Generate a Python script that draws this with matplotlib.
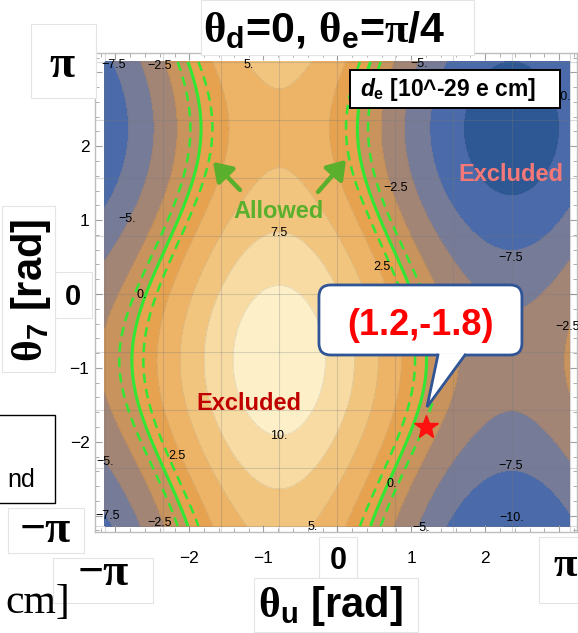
import numpy as np
import matplotlib
matplotlib.use("Agg")
import matplotlib.pyplot as plt
from matplotlib.patches import FancyBboxPatch, Rectangle, Polygon
from matplotlib.ticker import FixedLocator, MultipleLocator

W, H, DPI = 578, 633, 100

# ---------------- data ----------------
theta_e = np.pi / 4                      # fixed phase of the panel
# d_e(theta_u, theta_7) [10^-29 e cm] as harmonic terms in the two phases
de_offset = -0.15
de_u_harmonics = [1, 2]
de_u_amplitudes = [7.95, 0.30]
de_7_amplitude = 3.6
de_7_phase = 0.9

contour_levels = [-10, -7.5, -5, -2.5, 0, 2.5, 5, 7.5, 10]
band_colors = ["#2d5894", "#4a6aa9", "#767b97", "#a28575", "#c8935c",
               "#e6a24f", "#edb367", "#f2c57f", "#f8dba3", "#fdf0c9"]
edm_central = [0.0]
edm_bound = [-1.1, 1.1]
benchmark_u = [1.2]
benchmark_7 = [-1.8]

label_u = [-3.03, -2.40, -1.20, 1.11, 3.00, 0.79, 2.35, 0.60, -2.84, -0.79,
           -2.64, -0.79, -2.17, -3.14, -3.10, -2.40, -0.34, 1.13, 2.36, 3.11,
           2.35, 0.74]
label_7 = [3.10, 3.09, 3.10, 3.11, 2.67, 1.44, 0.49, 0.36, 1.02, 0.83,
           -0.01, -1.92, -2.19, -2.27, -3.00, -3.10, -3.15, -3.17, -3.03, -0.45,
           -2.33, -2.57]
label_val = [-7.5, -2.5, 5, -5, -10, -2.5, -7.5, 2.5, -5, 7.5,
             0, 10, 2.5, -5, -7.5, -2.5, 5, -5, -10, -2.5,
             -7.5, 0]

tick_values = [-3, -2, -1, 0, 1, 2, 3]
tick_labels = ["", "\u22122", "\u22121", "", "1", "2", ""]
grid_values = [k * np.pi / 4 for k in range(-4, 5)]

# ---------------- style ----------------
plt.rcParams['mathtext.fontset'] = 'custom'
plt.rcParams['mathtext.rm'] = 'Liberation Serif:bold'
plt.rcParams['mathtext.sf'] = 'Liberation Sans:bold'
plt.rcParams['mathtext.it'] = 'Liberation Sans:italic:bold'
plt.rcParams['mathtext.bf'] = 'Liberation Sans:bold'
plt.rcParams['font.family'] = ['Liberation Sans', 'DejaVu Sans']

fig = plt.figure(figsize=(W / DPI, H / DPI), dpi=DPI)
ax = fig.add_axes([95 / W, 1 - 532 / H, 482 / W, 479 / H])
ax.set_facecolor('white')

tu = np.linspace(-np.pi, np.pi, 601)
t7 = np.linspace(-np.pi, np.pi, 601)
TU, T7 = np.meshgrid(tu, t7)
D = de_offset + de_7_amplitude * np.cos(T7 + de_7_phase)
for k, a in zip(de_u_harmonics, de_u_amplitudes):
    D = D + a * np.cos(k * (TU + theta_e))

ax.contourf(TU, T7, D, levels=[-1e3] + contour_levels + [1e3], colors=band_colors)
ax.contour(TU, T7, D, levels=contour_levels, colors='#606060', linewidths=0.4, alpha=0.25)
for g in grid_values:
    ax.axvline(g, color='#7a7a7a', lw=0.8, alpha=0.28, zorder=2)
    ax.axhline(g, color='#7a7a7a', lw=0.8, alpha=0.28, zorder=2)

green = '#33e633'
ax.contour(TU, T7, D, levels=edm_central, colors=green, linewidths=2.2, zorder=3)
ax.contour(TU, T7, D, levels=edm_bound, colors=green, linewidths=1.8,
           linestyles=[(0, (3.8, 2.4))], zorder=3)


def fmt(v):
    s = f"{v:g}"
    if '.' not in s:
        s += '.'
    return s.replace('-', '\u2212')


for u, v, val in zip(label_u, label_7, label_val):
    ax.text(u, v, fmt(val), fontsize=9, ha='center', va='center', zorder=4, clip_on=False)

ax.set_xlim(-np.pi - 0.135, np.pi + 0.10)
ax.set_ylim(-np.pi - 0.08, np.pi + 0.12)
ax.xaxis.set_major_locator(FixedLocator(tick_values))
ax.yaxis.set_major_locator(FixedLocator(tick_values))
ax.set_xticklabels(tick_labels)
ax.set_yticklabels(tick_labels)
ax.xaxis.set_minor_locator(MultipleLocator(0.2))
ax.yaxis.set_minor_locator(MultipleLocator(0.2))
ax.tick_params(which='both', direction='in', top=True, right=True, color='#a0a0a0',
               labelcolor='black', labelsize=12.5)
ax.tick_params(which='major', length=5, width=0.8)
ax.tick_params(which='minor', length=2.8, width=0.6)
ax.tick_params(axis='x', pad=14)
ax.tick_params(axis='y', pad=4)
for s in ax.spines.values():
    s.set_color('#bdbdbd')
    s.set_linewidth(1.0)

# annotations inside the plot
ax.text(-0.80, 1.11, "Allowed", color='#5aaf2d', fontsize=17, fontweight='bold',
        ha='center', va='center', zorder=6)
for tail, head in [((-1.316, 1.408), (-1.681, 1.787)), ((-0.261, 1.381), (0.117, 1.815))]:
    ax.annotate("", xy=head, xytext=tail, zorder=6,
                arrowprops=dict(arrowstyle='-|>,head_length=0.6,head_width=0.4', lw=3.2,
                                color='#5aaf2d', mutation_scale=18, shrinkA=0, shrinkB=0))
ax.text(-1.194, -1.476, "Excluded", color='#c00000', fontsize=17, fontweight='bold',
        ha='center', va='center', zorder=6)
ax.text(2.348, 1.611, "Excluded", color='#f57878', fontsize=17, fontweight='bold',
        ha='center', va='center', zorder=6)

# callout
cb = FancyBboxPatch((-0.248, -0.826), 2.745, 0.948, boxstyle="round,pad=0,rounding_size=0.16",
                    fc='white', ec='#2f5597', lw=2.0, zorder=7, clip_on=False)
ax.add_patch(cb)
ax.add_patch(Polygon([(1.361, -0.80), (1.727, -0.80), (1.727, -0.826), (1.213, -1.530),
                      (1.361, -0.826)], closed=True, fc='white', ec='none', zorder=7.5))
ax.plot([1.361, 1.213, 1.727], [-0.826, -1.530, -0.826], color='#2f5597', lw=2.0, zorder=7.6,
        solid_joinstyle='miter')
ax.text(1.131, -0.420, "(1.2,-1.8)", color='#ff0000', fontsize=26, fontweight='bold',
        ha='center', va='center', zorder=8)
ax.plot(benchmark_u, benchmark_7, marker='*', ms=18, color='#ff1010', mec='#ff1010', zorder=8,
        ls='none')

# legend box
ax.add_patch(Rectangle((0.171, 2.519), 2.840, 0.514, fc='white', ec='black', lw=1.4, zorder=7,
                       clip_on=False))
ax.text(1.497, 2.770, r"$\mathit{d}_{\mathsf{e}}$ [10^-29 e cm]", fontsize=16.5,
        fontweight='bold', ha='center', va='center', zorder=8)


# ---------------- slide overlays (pixel placed) ----------------
def box(x0, y0, x1, y1, ec='#e4e4e4', lw=0.8):
    fig.patches.append(Rectangle((x0 / W, 1 - y1 / H), (x1 - x0) / W, (y1 - y0) / H,
                                 transform=fig.transFigure, fc='white', ec=ec, lw=lw, zorder=5))


def ftext(x, y, s, **kw):
    fig.text(x / W, 1 - y / H, s, zorder=6, **kw)


serif = ['Liberation Serif', 'DejaVu Serif']

box(201, 0, 474, 55)
ftext(324, 30, r"$\mathrm{θ}_{\mathsf{d}}$=0, $\mathrm{θ}_{\mathsf{e}}$=$\mathrm{π}$/4",
      fontsize=31, fontweight='bold', ha='center', va='center')

box(31, 24, 96, 98)
ftext(62, 66, "π", family=serif, fontsize=33, fontweight='bold', ha='center', va='center')

box(55, 272, 92, 318)
ftext(73, 297, "0", fontsize=21, fontweight='bold', ha='center', va='center')

box(2, 206, 55, 372)
ftext(31, 290, r"$\mathrm{θ}_{\mathsf{7}}$ [rad]", fontsize=30, fontweight='bold',
      ha='center', va='center', rotation=90)

box(-2, 415, 55, 503, ec='black', lw=1.0)
ftext(21, 480, "nd", fontsize=18, ha='center', va='center')

box(8, 508, 84, 553)
ftext(45, 531, "\u2212π", family=serif, fontsize=33, fontweight='bold', ha='center', va='center')

box(53, 558, 153, 603)
ftext(103, 574, "\u2212π", family=serif, fontsize=33, fontweight='bold', ha='center', va='center')

ftext(70, 603, "cm]", family=serif, fontsize=30, ha='right', va='center')

box(319, 537, 357, 578)
ftext(338, 561, "0", fontsize=22, fontweight='bold', ha='center', va='center')

box(254, 578, 418, 632)
ftext(330, 606, r"$\mathrm{θ}_{\mathsf{u}}$ [rad]", fontsize=30, fontweight='bold',
      ha='center', va='center')

box(539, 537, 600, 603)
ftext(577, 566, "π", family=serif, fontsize=31, fontweight='bold', ha='right', va='center')

fig.savefig("out.png", dpi=DPI)
